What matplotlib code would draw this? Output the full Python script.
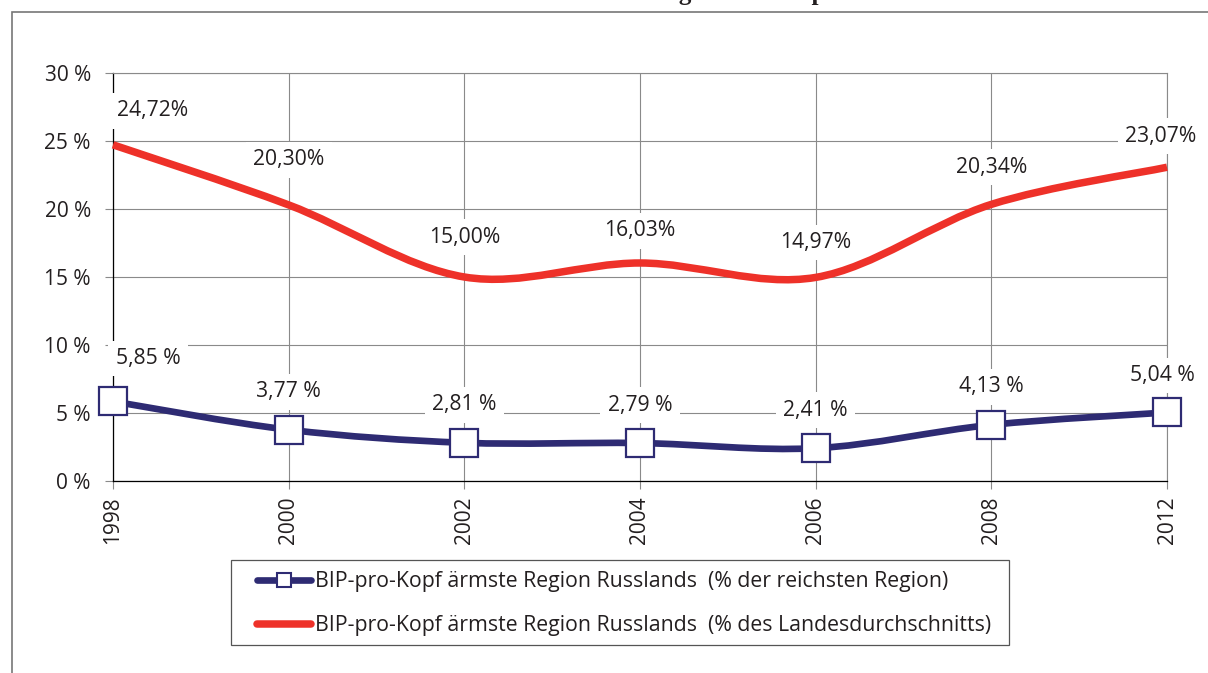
import matplotlib
matplotlib.use('Agg')
import matplotlib.pyplot as plt
import numpy as np
from matplotlib.path import Path
from matplotlib.patches import PathPatch, Rectangle
from matplotlib.lines import Line2D

# Daten
years       = ['1998', '2000', '2002', '2004', '2006', '2008', '2012']
share_rich  = [5.85, 3.77, 2.81, 2.79, 2.41, 4.13, 5.04]      # % der reichsten Region
share_avg   = [24.72, 20.30, 15.00, 16.03, 14.97, 20.34, 23.07]  # % des Landesdurchschnitts
labels_rich = ['5,85 %', '3,77 %', '2,81 %', '2,79 %', '2,41 %', '4,13 %', '5,04 %']
labels_avg  = ['24,72%', '20,30%', '15,00%', '16,03%', '14,97%', '20,34%', '23,07%']
y_ticks     = [0, 5, 10, 15, 20, 25, 30]
y_ticklabels = ['0 %', '5 %', '10 %', '15 %', '20 %', '25 %', '30 %']
legend_rich = 'BIP-pro-Kopf ärmste Region Russlands  (% der reichsten Region)'
legend_avg  = 'BIP-pro-Kopf ärmste Region Russlands  (% des Landesdurchschnitts)'

navy = '#2e2b73'
red  = '#ee3129'
grid_col = '#8a8a8a'
txt_col = '#231f20'

plt.rcParams['font.family'] = ['Open Sans', 'DejaVu Sans']

W, H = 1208, 673
fig = plt.figure(figsize=(W / 100, H / 100), dpi=100)
ax = fig.add_axes([113 / W, 1 - 481 / H, (1167 - 113) / W, (481 - 73) / H])


def smooth_path(ys):
    """Bezier-Kurve wie bei Excel-Glaettung (Kontrollpunkte mit 1/6)"""
    pts = np.column_stack([np.arange(len(ys)), ys]).astype(float)
    n = len(pts)
    verts = [tuple(pts[0])]
    codes = [Path.MOVETO]
    for i in range(n - 1):
        p_prev = pts[i - 1] if i > 0 else pts[i]
        p_next = pts[i + 2] if i + 2 < n else pts[i + 1]
        c1 = pts[i] + (pts[i + 1] - p_prev) / 6
        c2 = pts[i + 1] - (p_next - pts[i]) / 6
        verts += [tuple(c1), tuple(c2), tuple(pts[i + 1])]
        codes += [Path.CURVE4] * 3
    return Path(verts, codes)


x = np.arange(len(years))

ax.add_patch(PathPatch(smooth_path(share_avg), facecolor='none', edgecolor=red,
                       lw=5.4, capstyle='butt', zorder=3, clip_on=False))
ax.add_patch(PathPatch(smooth_path(share_rich), facecolor='none', edgecolor=navy,
                       lw=4.8, capstyle='butt', zorder=3, clip_on=False))
ax.plot(x, share_rich, linestyle='none', marker='s', ms=19.5, mfc='white',
        mec=navy, mew=1.6, zorder=4, clip_on=False)

# Beschriftungen
dx_avg  = [40, 0, 0, 0, 0, 0, -6]
dy_avg  = [34, 45, 40, 32, 35, 37, 31]
dx_rich = [35, 0, 0, 0, 0, 0, -5]
dy_rich = [43, 38, 38, 38, 38, 38, 37]
box = dict(boxstyle='square,pad=0.35', fc='white', ec='none')
for i in range(len(years)):
    ax.annotate(labels_avg[i], (x[i], share_avg[i]), xytext=(dx_avg[i], dy_avg[i]),
                textcoords='offset pixels', ha='center', va='center', fontsize=15.2,
                color=txt_col, bbox=box, zorder=5, annotation_clip=False)
    ax.annotate(labels_rich[i], (x[i], share_rich[i]), xytext=(dx_rich[i], dy_rich[i]),
                textcoords='offset pixels', ha='center', va='center', fontsize=15.2,
                color=txt_col, bbox=box, zorder=5, annotation_clip=False)

ax.set_xlim(0, len(years) - 1)
ax.set_ylim(0, 30)
ax.set_xticks(x)
ax.set_xticklabels(years, rotation=90, fontsize=15, color=txt_col)
ax.set_yticks(y_ticks)
ax.set_yticklabels(y_ticklabels, fontsize=15, color=txt_col)
ax.tick_params(axis='both', length=6, width=0.8, color=grid_col)
ax.tick_params(axis='y', pad=10)
ax.tick_params(axis='x', pad=5)
ax.grid(True, color=grid_col, lw=0.8)
ax.set_axisbelow(True)
for s in ['top', 'right']:
    ax.spines[s].set_color(grid_col)
    ax.spines[s].set_linewidth(0.8)
for s in ['left', 'bottom']:
    ax.spines[s].set_color('black')
    ax.spines[s].set_linewidth(0.9)

# Legende (Rahmen separat gezeichnet)
handles = [
    Line2D([], [], color=navy, lw=4.8, marker='s', ms=10.5, mfc='white', mec=navy,
           mew=1.5, solid_capstyle='round'),
    Line2D([], [], color=red, lw=5.4, solid_capstyle='round'),
]
leg = fig.legend(handles, [legend_rich, legend_avg], loc='upper left',
                 bbox_to_anchor=(257 / W, 1 - 571 / H), fontsize=15.3,
                 frameon=False, borderpad=0, borderaxespad=0,
                 handlelength=2.55, handletextpad=0.17, labelspacing=1.08)
for t in leg.get_texts():
    t.set_color(txt_col)
fig.patches.append(Rectangle((231 / W, 1 - 645 / H), (1009 - 231) / W, 85 / H,
                             transform=fig.transFigure, fill=False, ec='#555555', lw=0.9))

# Rahmen um die Grafik
fig.patches.append(Rectangle((12 / W, -0.05), 1.1, 1 - 12 / H + 0.05, transform=fig.transFigure,
                             fill=False, ec='#777777', lw=1.2, clip_on=False))

# Titel (oben abgeschnitten)
fig.text(418 / W, 1.0, 'Abstand der ärmsten Region im BIP pro Einwohner',
         family=['Liberation Serif', 'DejaVu Serif'], weight='bold', fontsize=18,
         ha='left', va='baseline', color=txt_col)

fig.savefig('out.png', dpi=100)
